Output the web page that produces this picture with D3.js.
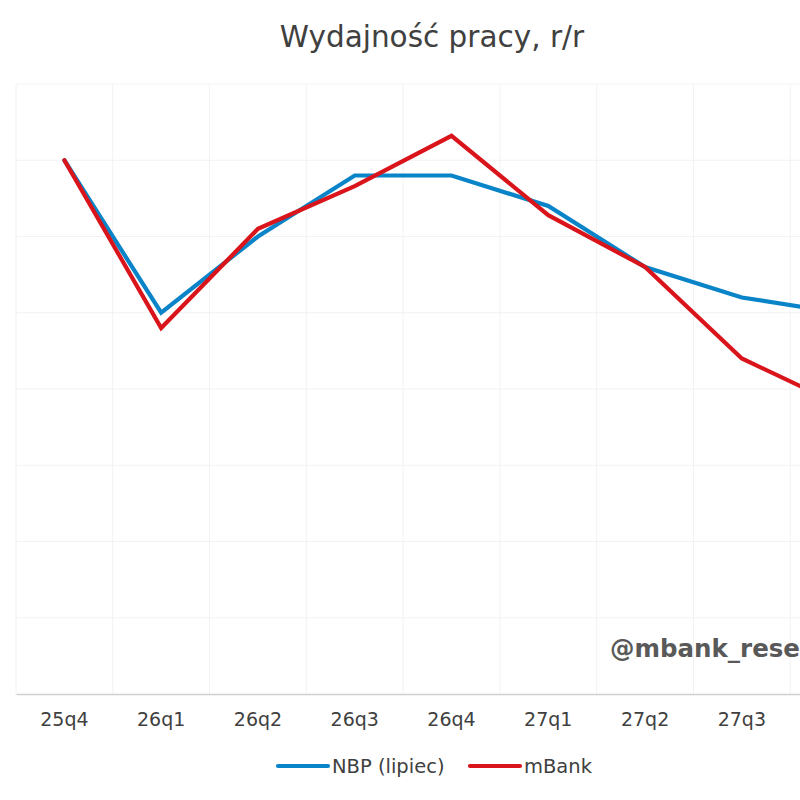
<!DOCTYPE html>
<html>
<head>
<meta charset="utf-8">
<script src="https://cdn.jsdelivr.net/npm/d3@7"></script>
<style>
  html, body { margin: 0; padding: 0; background: #fff; overflow: hidden; }
  svg { display: block; font-family: "DejaVu Sans", Verdana, sans-serif; }
</style>
</head>
<body>
<svg id="chart" width="800" height="800"></svg>
<script>
const categories = ["25q4","26q1","26q2","26q3","26q4","27q1","27q2","27q3","27q4"];
const nbpValues   = [3.5, 2.5, 3.0, 3.4, 3.4, 3.2, 2.8, 2.6, 2.5];
const mbankValues = [3.5, 2.4, 3.05, 3.33, 3.66, 3.14, 2.8, 2.2, 1.9];
const yTicks = [0, 0.5, 1, 1.5, 2, 2.5, 3, 3.5, 4];
const seriesNames = ["NBP (lipiec)", "mBank"];
const seriesColors = ["#0a84c8", "#d9141b"];

const svg = d3.select("#chart");
const plotLeft = 16, plotRight = 887, plotTop = 84, plotBottom = 694;

const x = d3.scaleBand().domain(categories).range([plotLeft, plotRight]).paddingInner(0).paddingOuter(0);
const y = d3.scaleLinear().domain([0, 4]).range([plotBottom, plotTop]);

// horizontal gridlines
svg.append("g").selectAll("line").data(yTicks.filter(t => t > 0)).join("line")
  .attr("x1", plotLeft).attr("x2", plotRight)
  .attr("y1", d => y(d)).attr("y2", d => y(d))
  .attr("stroke", "#f2f2f2").attr("stroke-width", 1);

// vertical gridlines at band boundaries
const bounds = categories.map(c => x(c)).concat([plotRight]);
svg.append("g").selectAll("line").data(bounds).join("line")
  .attr("x1", d => d).attr("x2", d => d)
  .attr("y1", plotTop).attr("y2", plotBottom)
  .attr("stroke", "#f2f2f2").attr("stroke-width", 1);

// x axis
const xAxis = d3.axisBottom(x).tickSize(0).tickPadding(19);
const gx = svg.append("g").attr("transform", `translate(0,${plotBottom})`).call(xAxis);
gx.select(".domain").attr("stroke", "#d0d0d0").attr("stroke-width", 1.5);
gx.selectAll("text").attr("font-size", "19px").attr("fill", "#404040")
  .attr("font-family", '"DejaVu Sans", Verdana, sans-serif');

// lines
const line = d3.line()
  .x((d, i) => x(categories[i]) + x.bandwidth() / 2)
  .y(d => y(d));

[nbpValues, mbankValues].forEach((vals, k) => {
  svg.append("path").datum(vals)
    .attr("d", line)
    .attr("fill", "none")
    .attr("stroke", seriesColors[k])
    .attr("stroke-width", 4.2)
    .attr("stroke-linejoin", "miter")
    .attr("stroke-linecap", "round");
});

// title
svg.append("text").attr("x", 432).attr("y", 47)
  .attr("text-anchor", "middle").attr("font-size", "29.5px").attr("fill", "#404040")
  .text("Wydajność pracy, r/r");

// watermark
svg.append("text").attr("x", 610).attr("y", 657)
  .attr("font-size", "24.5px").attr("font-weight", "bold").attr("fill", "#595959")
  .text("@mbank_research");

// legend
const legendX = [278, 470];
seriesNames.forEach((name, k) => {
  const g = svg.append("g").attr("transform", `translate(${legendX[k]},766)`);
  g.append("line").attr("x1", 0).attr("x2", 50).attr("y1", 0).attr("y2", 0)
    .attr("stroke", seriesColors[k]).attr("stroke-width", 4.2).attr("stroke-linecap", "round");
  g.append("text").attr("x", 54).attr("y", 7).attr("font-size", "19.5px").attr("fill", "#404040")
    .text(name);
});
</script>
</body>
</html>
